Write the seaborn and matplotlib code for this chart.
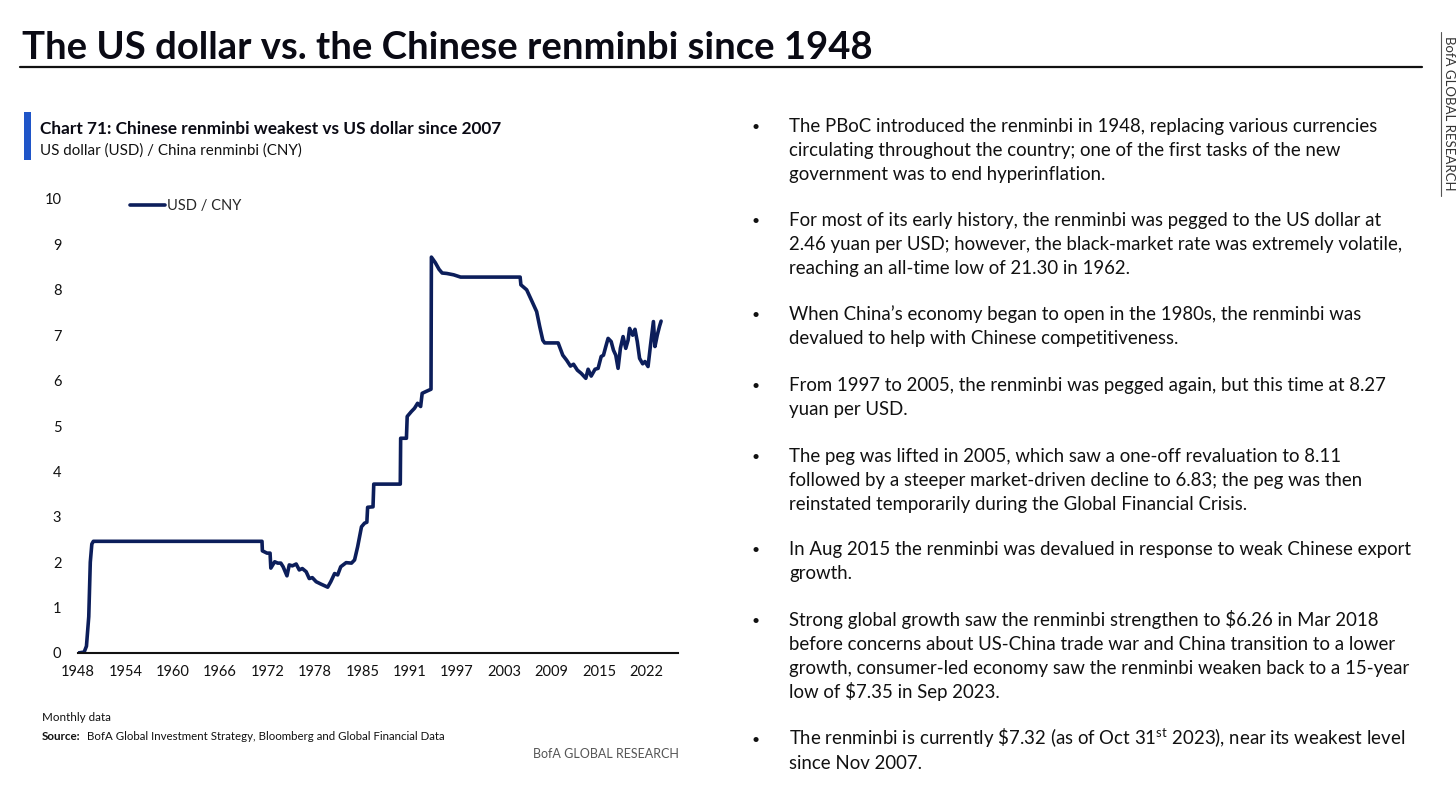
import pandas as pd
import matplotlib
matplotlib.use("Agg")
import matplotlib.pyplot as plt
import seaborn as sns

# USD / CNY (decimal year, rate)
years = [
    1948.00, 1948.80, 1949.10, 1949.40, 1949.60, 1949.80, 1950.00, 1971.95,
    1972.00, 1972.60, 1973.00, 1973.10, 1973.60, 1974.00, 1974.40, 1974.70,
    1975.20, 1975.50, 1975.90, 1976.40, 1976.80, 1977.20, 1977.70, 1978.10,
    1978.50, 1979.00, 1979.60, 1980.50, 1980.90, 1981.40, 1981.80, 1982.20,
    1982.90, 1983.60, 1984.00, 1984.40, 1984.90, 1985.30, 1985.60, 1985.70,
    1986.40, 1986.50, 1989.95, 1990.00, 1990.75, 1990.85, 1991.40, 1991.80,
    1992.20, 1992.60, 1992.80, 1993.30, 1993.95, 1994.00, 1994.50, 1995.00,
    1995.40, 1996.00, 1996.90, 1997.80, 2005.55, 2005.65, 2006.40, 2007.00,
    2007.70, 2008.10, 2008.50, 2008.75, 2010.50, 2011.10, 2011.60, 2012.10,
    2012.50, 2013.00, 2013.50, 2014.10, 2014.40, 2014.80, 2015.30, 2015.70,
    2016.10, 2016.40, 2016.70, 2017.00, 2017.40, 2017.70, 2018.00, 2018.30,
    2018.60, 2018.95, 2019.30, 2019.60, 2019.80, 2020.20, 2020.50, 2020.80,
    2021.10, 2021.50, 2021.80, 2022.20, 2022.50, 2022.90, 2023.10, 2023.40,
    2023.70, 2023.90,
]
usd_cny = [
    0.00, 0.02, 0.15, 0.80, 2.00, 2.40, 2.46, 2.46,
    2.25, 2.20, 2.20, 1.87, 2.01, 1.98, 1.98, 1.90,
    1.70, 1.94, 1.92, 1.96, 1.83, 1.86, 1.79, 1.64,
    1.66, 1.57, 1.52, 1.45, 1.57, 1.75, 1.72, 1.90,
    1.99, 1.98, 2.05, 2.34, 2.78, 2.86, 2.88, 3.21,
    3.22, 3.72, 3.72, 4.73, 4.73, 5.21, 5.32, 5.39,
    5.50, 5.43, 5.72, 5.76, 5.81, 8.72, 8.60, 8.45,
    8.37, 8.36, 8.33, 8.28, 8.28, 8.11, 8.00, 7.78,
    7.52, 7.19, 6.89, 6.83, 6.83, 6.56, 6.45, 6.32,
    6.36, 6.23, 6.16, 6.05, 6.25, 6.10, 6.25, 6.27,
    6.53, 6.56, 6.75, 6.93, 6.86, 6.67, 6.56, 6.27,
    6.71, 6.97, 6.71, 6.89, 7.15, 7.00, 7.13, 6.86,
    6.49, 6.37, 6.42, 6.31, 6.75, 7.30, 6.75, 7.00,
    7.20, 7.31,
]
tick_labels = ["1948", "1954", "1960", "1966", "1972", "1978", "1985",
               "1991", "1997", "2003", "2009", "2015", "2022"]
y_ticks = [0, 1, 2, 3, 4, 5, 6, 7, 8, 9, 10]

bullets = [
    ["The PBoC introduced the renminbi in 1948, replacing various currencies",
     "circulating throughout the country; one of the first tasks of the new",
     "government was to end hyperinflation."],
    ["For most of its early history, the renminbi was pegged to the US dollar at",
     "2.46 yuan per USD; however, the black-market rate was extremely volatile,",
     "reaching an all-time low of 21.30 in 1962."],
    ["When China\u2019s economy began to open in the 1980s, the renminbi was",
     "devalued to help with Chinese competitiveness."],
    ["From 1997 to 2005, the renminbi was pegged again, but this time at 8.27",
     "yuan per USD."],
    ["The peg was lifted in 2005, which saw a one-off revaluation to 8.11",
     "followed by a steeper market-driven decline to 6.83; the peg was then",
     "reinstated temporarily during the Global Financial Crisis."],
    ["In Aug 2015 the renminbi was devalued in response to weak Chinese export",
     "growth."],
    ["Strong global growth saw the renminbi strengthen to $6.26 in Mar 2018",
     "before concerns about US-China trade war and China transition to a lower",
     "growth, consumer-led economy saw the renminbi weaken back to a 15-year",
     "low of $7.35 in Sep 2023."],
    ["The renminbi is currently \\$7.32 (as of Oct 31$^{\\mathregular{st}}$ 2023), near its weakest level",
     "since Nov 2007."],
]
bullet_tops = [126, 220, 314, 385, 456, 549, 620, 739]

df = pd.DataFrame({"year": years, "USD / CNY": usd_cny})

sns.set_theme(style="white")
plt.rcParams["font.family"] = ["Lato", "DejaVu Sans"]

W, H = 1456, 793
fig = plt.figure(figsize=(W / 100, H / 100), dpi=100)
fig.patch.set_facecolor("white")

def fx(px):
    return px / W

def fy(py):
    return 1 - py / H

navy = "#0c1e5b"
text_col = "#111111"

# page title and rule
fig.text(fx(22), fy(59), "The US dollar vs. the Chinese renminbi since 1948",
         fontsize=27.5, fontweight="bold", color="#0a0a14", va="baseline")
fig.add_artist(plt.Line2D([fx(20), fx(1422)], [fy(67), fy(67)], color="#111111", lw=1.6))

# side label
fig.text(fx(1449), fy(113), "BofA GLOBAL RESEARCH", rotation=-90, fontsize=9.5,
         color="#333333", ha="center", va="center")
fig.add_artist(plt.Line2D([fx(1441), fx(1441)], [fy(32), fy(196)], color="#555555", lw=0.8))

# chart heading
fig.add_artist(plt.Rectangle((fx(24), fy(160)), fx(7), 48 / H, color="#1f55c8", lw=0))
fig.text(fx(40), fy(134), "Chart 71: Chinese renminbi weakest vs US dollar since 2007",
         fontsize=12.4, fontweight="bold", color="#0a0a14", va="baseline")
fig.text(fx(40), fy(155), "US dollar (USD) / China renminbi (CNY)",
         fontsize=10.9, color=text_col, va="baseline")

# line chart
ax = fig.add_axes([fx(78), fy(653), fx(678) - fx(78), (653 - 199) / H])
sns.lineplot(data=df, x="year", y="USD / CNY", ax=ax, color=navy, linewidth=2.6,
             estimator=None, label="USD / CNY")
ax.set_xlim(1948.0, 2026.1)
ax.set_ylim(0, 10)
ax.set_xticks([1948 + i * 74 / 12 for i in range(len(tick_labels))])
ax.set_xticklabels(tick_labels)
ax.set_yticks(y_ticks)
ax.set_xlabel("")
ax.set_ylabel("")
ax.tick_params(axis="both", length=0, labelsize=10.5, colors=text_col)
ax.tick_params(axis="y", pad=12)
ax.tick_params(axis="x", pad=9)
for s in ["left", "top", "right"]:
    ax.spines[s].set_visible(False)
ax.spines["bottom"].set_color("#111111")
ax.spines["bottom"].set_linewidth(1.5)
ax.legend(loc="center left", bbox_to_anchor=(0.087, 0.985), frameon=False,
          fontsize=10.5, handlelength=2.4, handletextpad=0.15,
          borderpad=0, borderaxespad=0)

# footnotes
fig.text(fx(42), fy(721), "Monthly data", fontsize=8.4, color=text_col, va="baseline")
src = fig.text(fx(42), fy(740), "Source:", fontsize=8.4, fontweight="bold",
               color=text_col, va="baseline")
plt.annotate("  BofA Global Investment Strategy, Bloomberg and Global Financial Data",
             xy=(1, 0), xycoords=src, va="bottom", fontsize=8.3, color=text_col,
             annotation_clip=False)
fig.text(fx(679), fy(758), "BofA GLOBAL RESEARCH", fontsize=9, color="#555555",
         ha="right", va="baseline")

# bullet text
for top, lines in zip(bullet_tops, bullets):
    fig.text(fx(756), fy(top + 5), "\u2022", fontsize=10, color=text_col,
             ha="center", va="baseline")
    for i, line in enumerate(lines):
        fig.text(fx(789), fy(top + 6 + i * 24), line, fontsize=13.4,
                 color=text_col, va="baseline")

plt.savefig("out.png", dpi=100)
plt.close()
